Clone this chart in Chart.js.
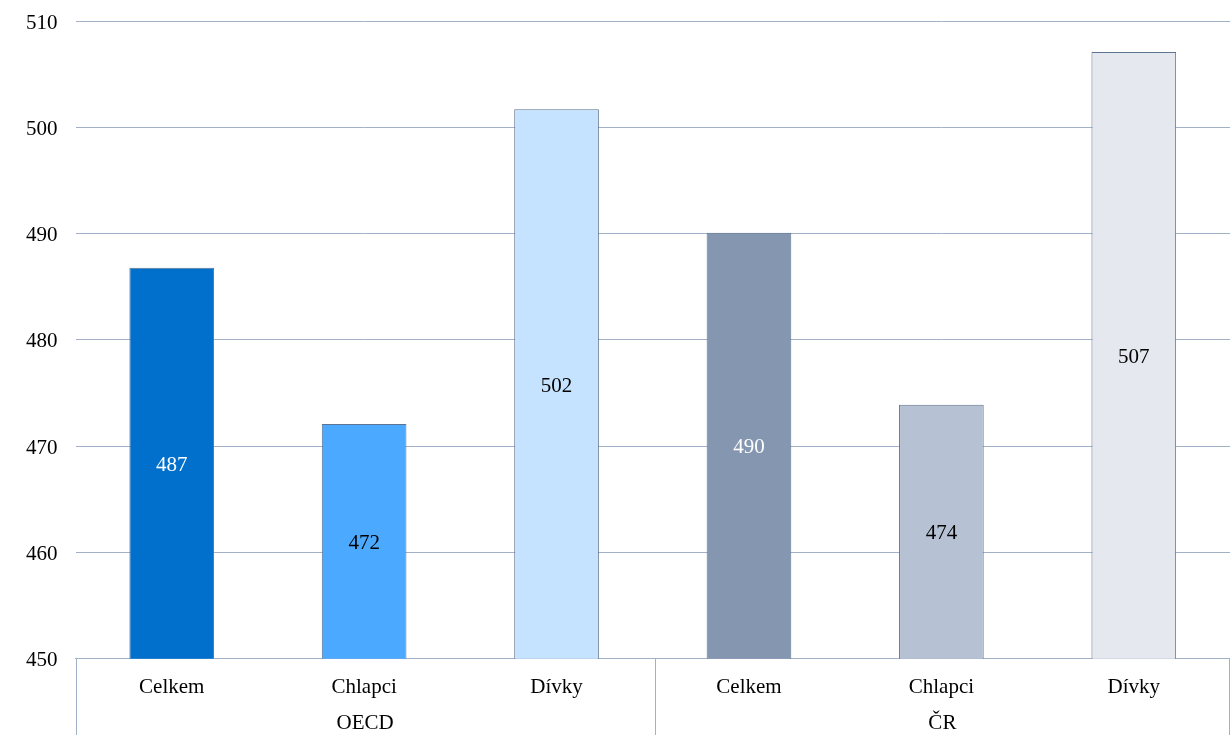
<!DOCTYPE html>
<html>
<head>
<meta charset="utf-8">
<script src="https://cdn.jsdelivr.net/npm/chart.js@4/dist/chart.umd.min.js"></script>
<style>
  html, body { margin: 0; padding: 0; background: #fff; }
  #wrap { width: 1230px; height: 746px; }
</style>
</head>
<body>
<div id="wrap"><canvas id="c"></canvas></div>
<script>
// Průměrný výsledek podle pohlaví – OECD a ČR
const categories = ['Celkem', 'Chlapci', 'Dívky', 'Celkem', 'Chlapci', 'Dívky'];
const groups = ['OECD', 'ČR'];
const scores = [486.8, 472.1, 501.7, 490.1, 473.9, 507.1];
const yTicks = [450, 460, 470, 480, 490, 500, 510];

const barColors = ['#0070CC', '#4BA9FF', '#C5E3FF', '#8596B0', '#B6C2D3', '#E5E8EE'];
const labelColors = ['#ffffff', '#000000', '#000000', '#ffffff', '#000000', '#000000'];
const gridColor = '#A3B1C6';
const FONT = "'Liberation Serif', 'Times New Roman', serif";
const FONT_SIZE = 21;

// Hodnoty uprostřed viditelné části sloupců
const valueLabels = {
  id: 'valueLabels',
  afterDatasetsDraw(chart) {
    const ctx = chart.ctx;
    const meta = chart.getDatasetMeta(0);
    const bottom = chart.chartArea.bottom;
    ctx.save();
    ctx.font = FONT_SIZE + 'px ' + FONT;
    ctx.textAlign = 'center';
    ctx.textBaseline = 'middle';
    meta.data.forEach((bar, i) => {
      const p = bar.getProps(['x', 'y', 'base'], true);
      const base = Math.min(p.base, bottom);
      const mid = (p.y + base) / 2;
      ctx.fillStyle = labelColors[i];
      ctx.fillText(String(Math.round(scores[i])), p.x, mid + 2);
    });
    ctx.restore();
  }
};

// Druhá úroveň popisků osy x (skupiny) a svislé oddělovače
const groupAxis = {
  id: 'groupAxis',
  afterDraw(chart) {
    const { ctx, chartArea } = chart;
    const left = chartArea.left, right = chartArea.right;
    const mid = (left + right) / 2 + 2;
    ctx.save();
    ctx.strokeStyle = gridColor;
    ctx.lineWidth = 1;
    [left, mid, right - 1].forEach(x => {
      const px = Math.round(x) + 0.5;
      ctx.beginPath();
      ctx.moveTo(px, chartArea.bottom);
      ctx.lineTo(px, 735);
      ctx.stroke();
    });
    ctx.font = FONT_SIZE + 'px ' + FONT;
    ctx.textAlign = 'center';
    ctx.textBaseline = 'middle';
    ctx.fillStyle = '#000';
    const centers = [(left + mid) / 2, (mid + right) / 2];
    groups.forEach((g, i) => ctx.fillText(g, centers[i], chartArea.bottom + 65));
    ctx.restore();
  }
};

new Chart(document.getElementById('c'), {
  type: 'bar',
  data: {
    labels: categories,
    datasets: [{
      data: scores,
      backgroundColor: barColors,
      borderColor: '#5F7491',
      borderWidth: 1,
      categoryPercentage: 1,
      barPercentage: 0.44
    }]
  },
  options: {
    responsive: true,
    maintainAspectRatio: false,
    animation: false,
    layout: { padding: { left: 8, right: 0, top: 0, bottom: 30 } },
    plugins: {
      legend: { display: false },
      tooltip: { enabled: false }
    },
    scales: {
      y: {
        min: 450,
        max: 510,
        afterBuildTicks(scale) { scale.ticks = yTicks.map(v => ({ value: v })); },
        ticks: { color: '#000', font: { family: FONT, size: FONT_SIZE, lineHeight: 0.3 }, padding: 18, labelOffset: 2 },
        grid: { color: gridColor, drawTicks: false },
        border: { display: false }
      },
      x: {
        position: 'bottom',
        ticks: { color: '#000', font: { family: FONT, size: FONT_SIZE }, padding: 16 },
        grid: { display: false, drawTicks: false },
        border: { display: true, color: gridColor }
      }
    }
  },
  plugins: [valueLabels, groupAxis]
});
</script>
</body>
</html>
